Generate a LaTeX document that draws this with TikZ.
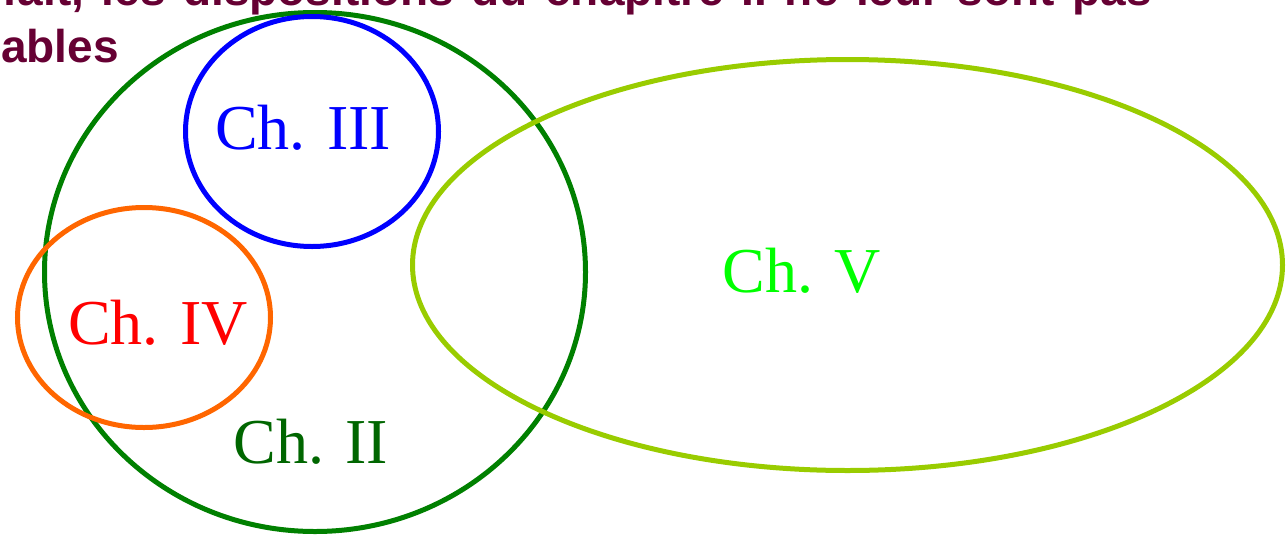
\documentclass[tikz,border=0pt]{standalone}
\usepackage{fontspec}
\setmainfont{Liberation Serif}
\newfontfamily\headfont{Liberation Sans}
\definecolor{headc}{HTML}{660033}
\definecolor{cIIline}{HTML}{008000}
\definecolor{cIItext}{HTML}{006600}
\definecolor{cIVline}{HTML}{FF6600}
\definecolor{cVline}{HTML}{99CC00}
\definecolor{cVtext}{HTML}{00FF00}
\tikzset{
  ring/.style={line width=5pt},
  lab/.style={font=\fontsize{64}{70}\selectfont, anchor=base, inner sep=0pt},
  head/.style={font=\headfont\bfseries\fontsize{46}{50}\selectfont, text=headc, anchor=base east, inner sep=0pt}
}
\begin{document}
\begin{tikzpicture}[x=1pt,y=-1pt]
\useasboundingbox (0,0) rectangle (1287,536);
\clip (0,0) rectangle (1287,536);
\node[head] (h1) at (1152,5) {\spaceskip=17.5pt fait, les dispositions du chapitre II ne leur sont pas};
\node[head] (h2) at (119,62) {applicables};
\draw[ring, cIIline] (315,272) ellipse [x radius=270.5, y radius=259.5];
\draw[ring, blue] (312,131.5) ellipse [x radius=126.5, y radius=115];
\draw[ring, cIVline] (144,317.5) ellipse [x radius=126.5, y radius=110];
\draw[ring, cVline] (847.5,265) ellipse [x radius=435, y radius=205.5];
\node[lab, text=blue] (c3) at (303,149) {Ch. III};
\node[lab, text=red] (c4) at (158,344) {Ch. IV};
\node[lab, text=cIItext] (c2) at (311,463) {Ch. II};
\node[lab, text=cVtext] (c5) at (802,292) {Ch. V};
\end{tikzpicture}
\end{document}
